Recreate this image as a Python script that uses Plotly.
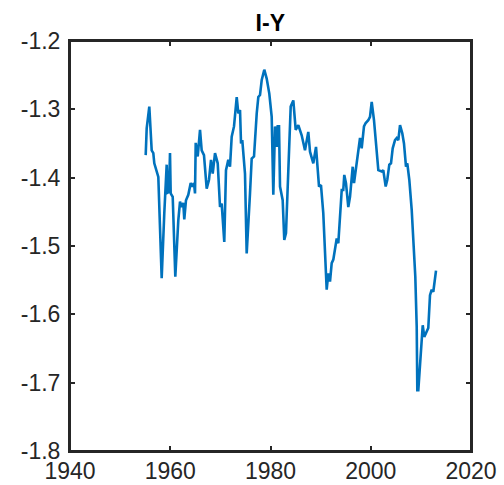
import plotly.graph_objects as go

years = [1955.10, 1955.30, 1955.82, 1956.30, 1956.62, 1956.82, 1957.62, 1958.29, 1958.81, 1959.29,
         1959.49, 1959.75, 1959.95, 1960.09, 1960.49, 1961.01, 1961.61, 1961.95, 1962.28, 1962.60,
         1962.80, 1963.14, 1963.60, 1964.08, 1964.40, 1964.74, 1964.94, 1965.08, 1965.48, 1965.94,
         1966.27, 1966.73, 1967.27, 1967.73, 1968.13, 1968.47, 1968.93, 1969.47, 1969.93, 1970.26,
         1970.78, 1971.12, 1971.58, 1971.92, 1972.26, 1972.72, 1973.26, 1973.58, 1973.92, 1974.12,
         1974.37, 1974.91, 1975.25, 1975.57, 1975.91, 1976.25, 1976.71, 1977.25, 1977.57, 1977.91,
         1978.25, 1978.76, 1979.24, 1979.76, 1980.24, 1980.56, 1980.90, 1981.24, 1981.44, 1981.70,
         1981.90, 1982.43, 1982.75, 1983.09, 1983.55, 1984.03, 1984.55, 1985.03, 1985.55, 1986.22,
         1986.88, 1987.54, 1987.88, 1988.54, 1989.08, 1989.68, 1990.07, 1990.53, 1991.21, 1991.53,
         1991.87, 1992.21, 1992.53, 1993.21, 1993.53, 1994.21, 1994.52, 1994.72, 1995.06, 1995.52,
         1995.86, 1996.40, 1996.66, 1997.20, 1997.86, 1998.19, 1998.65, 1998.99, 1999.51, 1999.85,
         2000.19, 2000.65, 2001.19, 2001.51, 2002.19, 2002.50, 2002.98, 2003.30, 2003.70, 2004.04,
         2004.38, 2004.84, 2005.18, 2005.50, 2005.84, 2006.29, 2006.63, 2007.03, 2007.29, 2007.69,
         2008.17, 2008.63, 2008.89, 2009.17, 2009.29, 2009.49, 2009.83, 2010.37, 2010.68, 2011.02,
         2011.48, 2011.82, 2012.16, 2012.48, 2012.68, 2013.02]

i_minus_y = [-1.367, -1.328, -1.296, -1.360, -1.364, -1.379, -1.399, -1.547, -1.452, -1.381,
             -1.422, -1.421, -1.364, -1.423, -1.428, -1.545, -1.462, -1.435, -1.443, -1.437,
             -1.461, -1.433, -1.425, -1.408, -1.413, -1.408, -1.423, -1.349, -1.369, -1.330,
             -1.360, -1.367, -1.416, -1.403, -1.374, -1.394, -1.364, -1.379, -1.443, -1.438,
             -1.494, -1.389, -1.374, -1.384, -1.340, -1.325, -1.282, -1.306, -1.301, -1.350,
             -1.345, -1.394, -1.511, -1.457, -1.423, -1.372, -1.369, -1.306, -1.282, -1.279,
             -1.257, -1.242, -1.255, -1.277, -1.311, -1.425, -1.325, -1.355, -1.325, -1.325,
             -1.413, -1.433, -1.491, -1.481, -1.374, -1.296, -1.287, -1.330, -1.323, -1.338,
             -1.360, -1.333, -1.362, -1.379, -1.355, -1.413, -1.411, -1.452, -1.564, -1.540,
             -1.552, -1.525, -1.520, -1.489, -1.496, -1.418, -1.418, -1.396, -1.408, -1.443,
             -1.428, -1.384, -1.408, -1.374, -1.342, -1.357, -1.325, -1.320, -1.316, -1.311,
             -1.289, -1.316, -1.360, -1.389, -1.391, -1.389, -1.413, -1.403, -1.381, -1.379,
             -1.357, -1.345, -1.342, -1.345, -1.323, -1.335, -1.350, -1.384, -1.379, -1.403,
             -1.447, -1.501, -1.545, -1.618, -1.711, -1.711, -1.667, -1.616, -1.633, -1.628,
             -1.620, -1.572, -1.564, -1.567, -1.552, -1.536]

x_ticks = [1940, 1960, 1980, 2000, 2020]
y_ticks = [-1.8, -1.7, -1.6, -1.5, -1.4, -1.3, -1.2]
title_text = "I-Y"

FONT = "Liberation Sans, Arial, Helvetica, sans-serif"

fig = go.Figure()
fig.add_trace(go.Scatter(x=years, y=i_minus_y, mode="lines",
                         line=dict(color="#0072BD", width=2.6), showlegend=False))

axis_common = dict(showgrid=False, zeroline=False, showline=True, linecolor="#262626",
                   linewidth=2, mirror="ticks", ticks="inside", ticklen=5, tickwidth=2,
                   tickcolor="#262626", automargin=False,
                   tickfont=dict(family=FONT, size=23, color="#262626"))

fig.update_layout(
    width=504, height=485,
    margin=dict(l=70, r=33, t=41, b=34, autoexpand=False),
    paper_bgcolor="white", plot_bgcolor="white",
    title=dict(text="<b>" + title_text + "</b>", x=0.5363, xanchor="center", y=0.953, yanchor="middle",
               font=dict(family=FONT, size=23, color="black")),
    xaxis=dict(range=[1940, 2020], tickvals=x_ticks, ticktext=[str(v) for v in x_ticks],
               ticklabelstandoff=-2, **axis_common),
    yaxis=dict(range=[-1.8, -1.2], tickvals=y_ticks, ticktext=[f"{v:.1f}" for v in y_ticks],
               ticklabelstandoff=3, **axis_common),
    shapes=[dict(type="rect", xref="paper", yref="paper", x0=0, x1=1, y0=0, y1=1,
                 line=dict(color="#262626", width=2), fillcolor="rgba(0,0,0,0)", layer="above")],
)

fig.write_html("out.html")
